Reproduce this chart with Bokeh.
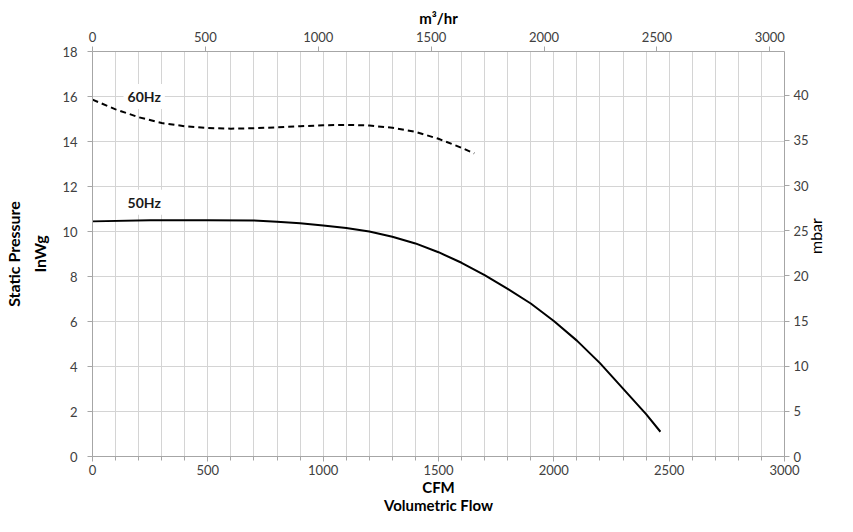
from bokeh.plotting import figure
from bokeh.models import LinearAxis, Range1d, Label, FixedTicker, ColumnDataSource, Grid
from bokeh.embed import file_html
from bokeh.resources import INLINE
import math

# ---- data ----
cfm_50 = [0, 250, 500, 700, 800, 900, 1000, 1100, 1200, 1300, 1400, 1500, 1600, 1700,
          1800, 1900, 2000, 2100, 2200, 2300, 2400, 2462]
p_50 = [10.45, 10.5, 10.5, 10.49, 10.43, 10.37, 10.27, 10.16, 10.0, 9.77, 9.47, 9.08, 8.61, 8.06,
        7.45, 6.8, 6.02, 5.15, 4.15, 3.02, 1.88, 1.1]

cfm_60 = [0, 100, 200, 300, 400, 500, 600, 700, 800, 900, 1000, 1100, 1200, 1300, 1400, 1500, 1600, 1655]
p_60 = [15.86, 15.43, 15.08, 14.82, 14.68, 14.6, 14.57, 14.59, 14.63, 14.68, 14.72, 14.74, 14.71,
        14.61, 14.43, 14.12, 13.72, 13.47]

cfm_ticks = [0, 500, 1000, 1500, 2000, 2500, 3000]
cfm_minor = list(range(0, 3001, 100))
m3_ticks = [0, 500, 1000, 1500, 2000, 2500, 3000]
inwg_ticks = list(range(0, 19, 2))
mbar_ticks = [0, 5, 10, 15, 20, 25, 30, 35, 40]
series_labels = ["60Hz", "50Hz"]
label_pos = [(224, 16.0), (224, 11.3)]

FONT = "Lato"
TICK_COLOR = "#404040"
AXIS_COLOR = "#a6a6a6"
GRID_COLOR = "#d4d4d4"

p = figure(width=837, height=516, output_backend="svg", toolbar_location=None,
           x_range=Range1d(0, 3000), y_range=Range1d(0, 18),
           min_border_left=91, min_border_right=50, min_border_top=51, min_border_bottom=52,
           x_axis_location=None, y_axis_location=None)
p.outline_line_color = None
p.background_fill_color = "white"
p.border_fill_color = "white"

p.extra_x_ranges = {"m3": Range1d(0, 3065)}
p.extra_y_ranges = {"mbar": Range1d(0, 18 * 2.4909)}


def style_axis(ax, standoff=5):
    ax.axis_line_color = AXIS_COLOR
    ax.major_tick_line_color = AXIS_COLOR
    ax.minor_tick_line_color = AXIS_COLOR
    ax.major_tick_in = 0
    ax.major_tick_out = 5
    ax.minor_tick_in = 0
    ax.minor_tick_out = 0
    ax.major_label_text_font = FONT
    ax.major_label_text_font_size = "13px"
    ax.major_label_text_color = TICK_COLOR
    ax.major_label_standoff = standoff
    ax.axis_label_text_font = FONT
    ax.axis_label_text_font_style = "bold"
    ax.axis_label_text_font_size = "15px"
    ax.axis_label_text_color = "black"


bottom = LinearAxis(ticker=FixedTicker(ticks=cfm_ticks, minor_ticks=cfm_minor),
                    axis_label="CFM\nVolumetric Flow")
style_axis(bottom, standoff=3)
bottom.minor_tick_out = 4
bottom.axis_label_standoff = 0
bottom.axis_label_text_font_size = "15px"
bottom.axis_label_text_line_height = 1.0
p.add_layout(bottom, "below")

left = LinearAxis(ticker=FixedTicker(ticks=inwg_ticks), axis_label="Static Pressure\nInWg")
style_axis(left, standoff=10)
left.axis_label_standoff = 10
left.axis_label_text_font_size = "16px"
left.axis_label_text_line_height = 1.4
p.add_layout(left, "left")

top = LinearAxis(x_range_name="m3", ticker=FixedTicker(ticks=m3_ticks), axis_label="m³/hr")
style_axis(top, standoff=5)
top.axis_label_standoff = 2
p.add_layout(top, "above")

right = LinearAxis(y_range_name="mbar", ticker=FixedTicker(ticks=mbar_ticks), axis_label="mbar")
style_axis(right, standoff=4)
right.axis_label_standoff = 4
right.axis_label_text_font_style = "normal"
right.axis_label_text_font_size = "16px"
right.axis_label_orientation = math.pi / 2
p.add_layout(right, "right")

p.xgrid.visible = False
p.ygrid.visible = False
p.add_layout(Grid(dimension=0, ticker=FixedTicker(ticks=cfm_minor), grid_line_color=GRID_COLOR, grid_line_width=1))
p.add_layout(Grid(dimension=1, ticker=FixedTicker(ticks=inwg_ticks), grid_line_color=GRID_COLOR, grid_line_width=1))

src50 = ColumnDataSource(dict(x=cfm_50, y=p_50))
src60 = ColumnDataSource(dict(x=cfm_60, y=p_60))
p.line("x", "y", source=src50, line_color="black", line_width=2)
p.line("x", "y", source=src60, line_color="black", line_width=2, line_dash="6 4")

for txt, (xx, yy) in zip(series_labels, label_pos):
    p.add_layout(Label(x=xx, y=yy, text=txt, text_font=FONT, text_font_style="bold",
                       text_font_size="14px", text_color="#1a1a1a", text_align="center",
                       text_baseline="middle", background_fill_color="white", padding=4))

open("out.html", "w").write(file_html(p, INLINE))
